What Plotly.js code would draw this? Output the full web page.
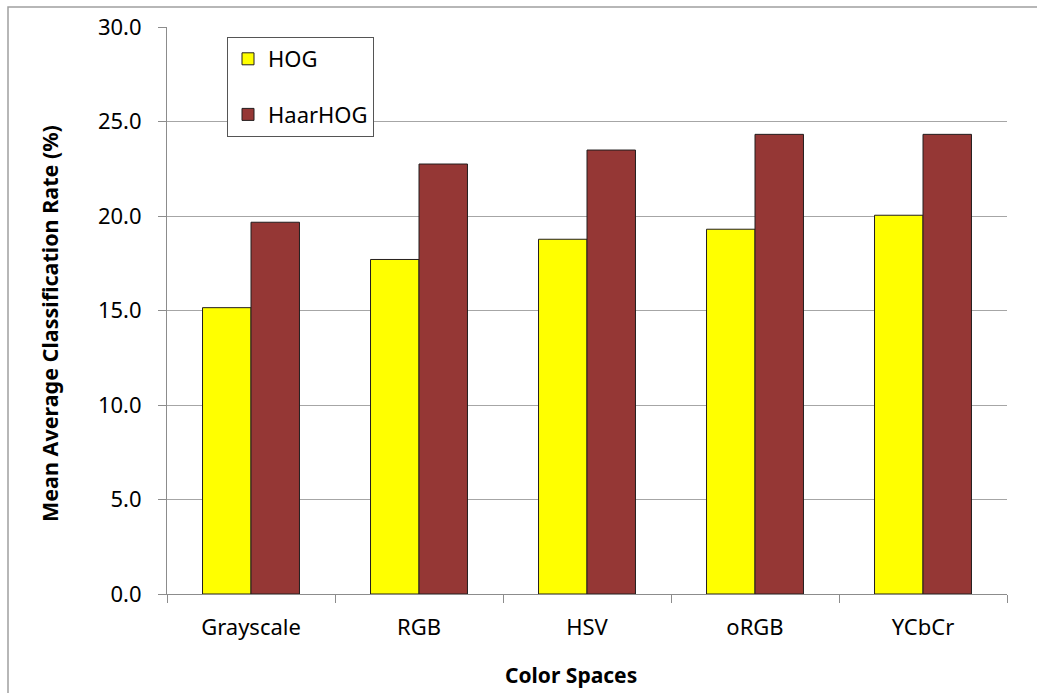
<!DOCTYPE html>
<html>
<head>
<meta charset="utf-8">
<script src="https://cdn.plot.ly/plotly-3.0.1.min.js"></script>
<style>
  html, body { margin: 0; padding: 0; background: #fff; }
  #chart { width: 1037px; height: 693px; }
</style>
</head>
<body>
<div id="chart"></div>
<script>
// Colour spaces compared
const categories = ["Grayscale", "RGB", "HSV", "oRGB", "YCbCr"];

// Mean average classification rate (%) per descriptor
const hogValues = [15.15, 17.7, 18.77, 19.3, 20.04];
const haarHogValues = [19.67, 22.75, 23.49, 24.32, 24.32];

const seriesNames = ["HOG", "HaarHOG"];

const FONT = '"Noto Sans", "Open Sans", sans-serif';
const W = 1037, H = 693;
const M = { l: 167, r: 30, t: 27, b: 99 };
const plotW = W - M.l - M.r;
const plotH = H - M.t - M.b;

// pixel position on the page -> paper coordinates
const px = x => (x - M.l) / plotW;
const py = y => (H - M.b - y) / plotH;

const barLine = { color: "rgb(35,30,30)", width: 1 };

const traces = [
  {
    type: "bar",
    name: seriesNames[0],
    x: categories,
    y: hogValues,
    marker: { color: "#FFFF00", line: barLine },
    legendgroup: "a"
  },
  {
    type: "bar",
    name: seriesNames[1],
    x: categories,
    y: haarHogValues,
    marker: { color: "#953735", line: barLine },
    legendgroup: "b"
  }
];

const layout = {
  width: W,
  height: H,
  margin: M,
  paper_bgcolor: "#fff",
  plot_bgcolor: "#fff",
  font: { family: FONT, size: 22, color: "#000" },
  barmode: "group",
  bargap: 0.423,
  bargroupgap: 0,
  showlegend: true,
  legend: {
    x: px(227),
    y: py(37),
    xanchor: "left",
    yanchor: "top",
    bgcolor: "#fff",
    bordercolor: "#555",
    borderwidth: 1,
    traceorder: "grouped",
    tracegroupgap: 24,
    font: { family: FONT, size: 22, color: "#000" }
  },
  xaxis: {
    type: "category",
    showgrid: false,
    showline: true,
    linecolor: "#8c8c8c",
    linewidth: 1,
    ticks: "outside",
    tickson: "boundaries",
    ticklen: 8,
    tickcolor: "#8c8c8c",
    ticklabelstandoff: 14,
    tickfont: { family: FONT, size: 22, color: "#000" }
  },
  yaxis: {
    range: [0, 30],
    dtick: 5,
    tick0: 0,
    tickformat: ".1f",
    showgrid: true,
    gridcolor: "#a6a6a6",
    gridwidth: 1,
    zeroline: false,
    showline: true,
    linecolor: "#8c8c8c",
    linewidth: 1,
    ticks: "outside",
    ticklen: 8,
    tickcolor: "#8c8c8c",
    ticklabelstandoff: 12,
    tickfont: { family: FONT, size: 22, color: "#000" }
  },
  annotations: [
    {
      text: "Color Spaces",
      xref: "paper",
      yref: "paper",
      x: px(571),
      y: py(675),
      xanchor: "center",
      yanchor: "middle",
      showarrow: false,
      font: { family: FONT, size: 21, color: "#000", weight: "bold" }
    },
    {
      text: "Mean Average Classification Rate (%)",
      xref: "paper",
      yref: "paper",
      x: px(49),
      y: py(324),
      xanchor: "center",
      yanchor: "middle",
      textangle: -90,
      showarrow: false,
      font: { family: FONT, size: 21.5, color: "#000", weight: "bold" }
    }
  ],
  shapes: [
    {
      type: "rect",
      xref: "paper",
      yref: "paper",
      x0: px(8),
      x1: 1.2,
      y0: -0.5,
      y1: py(7),
      line: { color: "#a0a0a0", width: 1.5 },
      fillcolor: "rgba(0,0,0,0)",
      layer: "below"
    }
  ]
};

Plotly.newPlot("chart", traces, layout, { displayModeBar: false, staticPlot: true });
</script>
</body>
</html>
